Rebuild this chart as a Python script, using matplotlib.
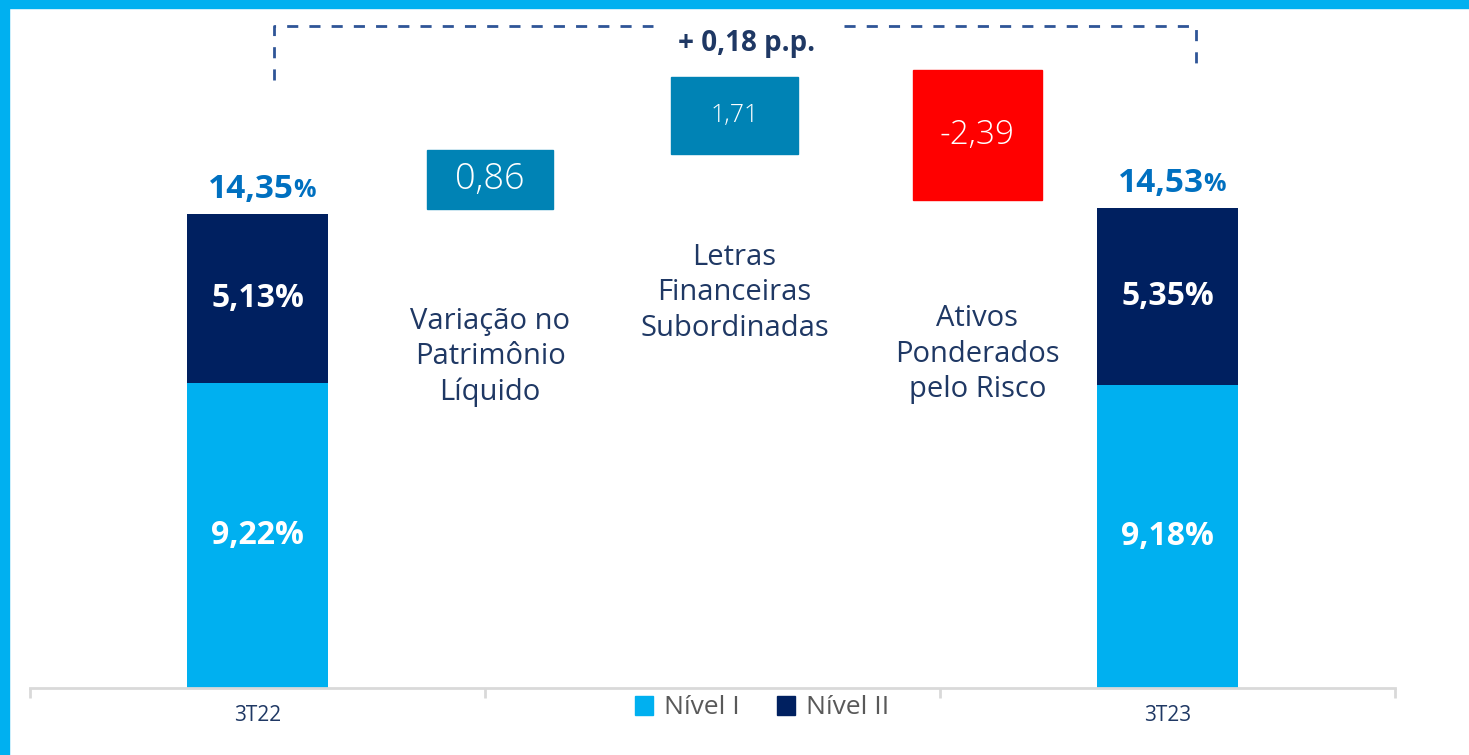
import numpy as np
import matplotlib
matplotlib.use('Agg')
import matplotlib.pyplot as plt
from matplotlib.patches import Rectangle, Patch

plt.rcParams['font.family'] = ['Open Sans', 'DejaVu Sans']

# dados
periodos = ['3T22', '', '3T23']
nivel1 = [9.22, 0, 9.18]
nivel2 = [5.13, 0, 5.35]
totais = [14.35, None, 14.53]

# caixas da cascata (fora de escala no original)
wf_rotulos = ['0,86', '1,71', '-2,39']
wf_x = [0.511, 1.048, 1.582]
wf_larg = [0.277, 0.279, 0.284]
wf_base = [14.50, 16.17, 14.77]
wf_topo = [16.29, 18.50, 18.71]
wf_cores = ['#0083B5', '#0083B5', '#FF0000']
wf_fonte = [26, 18, 24]

descricoes = ['Variação no\nPatrimônio\nLíquido',
              'Letras\nFinanceiras\nSubordinadas',
              'Ativos\nPonderados\npelo Risco']
desc_y = [10.02, 11.96, 10.11]

variacao = '+ 0,18 p.p.'

azul_claro = '#00B0F0'
marinho = '#002060'
texto_escuro = '#1F3864'

fig = plt.figure(figsize=(14.69, 7.55), dpi=100)
ax = fig.add_axes([30 / 1469, 67 / 755, 1365 / 1469, 688 / 755])

x = np.arange(len(periodos))
idx = [0, 2]
xb = x[idx]
n1 = np.array(nivel1)[idx]
n2 = np.array(nivel2)[idx]
ax.bar(xb, n1, width=0.312, color=azul_claro, label='Nível I', zorder=2)
ax.bar(xb, n2, width=0.312, bottom=n1, color=marinho, label='Nível II', zorder=2)

for xi, a, b, t in zip(xb, n1, n2, [totais[i] for i in idx]):
    ax.text(xi, a / 2, f'{a:.2f}%'.replace('.', ','), ha='center', va='center',
            color='white', fontsize=23, fontweight='bold')
    ax.text(xi, a + b / 2, f'{b:.2f}%'.replace('.', ','), ha='center', va='center',
            color='white', fontsize=23, fontweight='bold')
    num = ax.annotate(f'{t:.2f}'.replace('.', ','), xy=(xi, t), xytext=(-5, 6),
                      textcoords='offset points', ha='center', va='bottom',
                      color='#0070C0', fontsize=24, fontweight='bold')
    ax.annotate('%', xy=(1, 0.08), xycoords=num, ha='left', va='bottom',
                color='#0070C0', fontsize=18, fontweight='bold')

# caixas flutuantes
for xc, w, b0, t0, c, lab, fs in zip(wf_x, wf_larg, wf_base, wf_topo, wf_cores, wf_rotulos, wf_fonte):
    ax.add_patch(Rectangle((xc - w / 2, b0), w, t0 - b0, color=c, zorder=2))
    ax.text(xc, (b0 + t0) / 2, lab, ha='center', va='center', color='white',
            fontsize=fs, fontweight='light')

for xc, yc, d in zip(wf_x, desc_y, descricoes):
    ax.text(xc, yc, d, ha='center', va='center', color=texto_escuro,
            fontsize=21, linespacing=1.3)

# colchete tracejado
lw = 2
dash = (0, (4, 4))
ax.plot([0.036, 0.036, 0.87], [18.41, 20.04, 20.04], color='#2F5597', lw=lw, ls=dash)
ax.plot([1.29, 2.063, 2.063], [20.04, 20.04, 18.59], color='#2F5597', lw=lw, ls=dash)
ax.text(1.074, 19.5, variacao, ha='center', va='center', color=texto_escuro,
        fontsize=20, fontweight='bold')

ax.set_xlim(-0.5, 2.5)
ax.set_ylim(0, 688 / 33.03)
for s in ['top', 'right', 'left']:
    ax.spines[s].set_visible(False)
ax.spines['bottom'].set_color('#D9D9D9')
ax.spines['bottom'].set_linewidth(2)
ax.set_yticks([])
ax.set_xticks(x)
ax.set_xticklabels(periodos, fontsize=15, color=texto_escuro)
ax.tick_params(axis='x', which='major', length=0, pad=12)
ax.set_xticks([-0.5, 0.5, 1.5, 2.5], minor=True)
ax.tick_params(axis='x', which='minor', length=7, width=2, color='#D9D9D9')

handles = [Patch(color=azul_claro, label='Nível I'), Patch(color=marinho, label='Nível II')]
fig.legend(handles=handles, loc='center', bbox_to_anchor=(762 / 1469, 47 / 755), ncol=2,
           frameon=False, fontsize=19, labelcolor='#595959', handlelength=0.7,
           handleheight=0.7, handletextpad=0.4, columnspacing=1.4)

# moldura azul
fig.patches.append(Rectangle((0, 747 / 755), 1, 8 / 755, transform=fig.transFigure,
                             color=azul_claro, zorder=5))
fig.patches.append(Rectangle((0, 0), 9 / 1469, 1, transform=fig.transFigure,
                             color=azul_claro, zorder=5))

fig.savefig('out.png', dpi=100)
